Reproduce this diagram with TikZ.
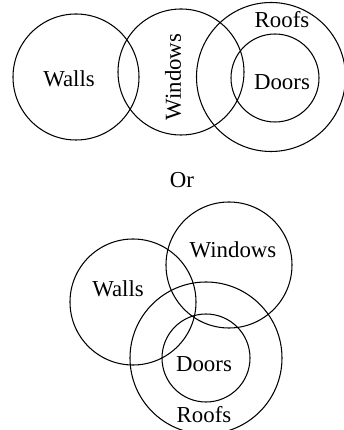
\documentclass[tikz,border=0pt]{standalone}
\usepackage{fontspec}
\setmainfont{Liberation Serif}
\usetikzlibrary{positioning}

\begin{document}
\begin{tikzpicture}[font=\fontsize{13}{15}\selectfont,
  ring/.style={draw,circle,line width=0.6pt,inner sep=0pt},
  big/.style={ring,minimum size=2.52cm},
  outer/.style={ring,minimum size=2.98cm},
  inner/.style={ring,minimum size=1.76cm}]
\useasboundingbox (0,0) rectangle (6.86,8.6);
% first layout
\node[big] (walls1) at (1.52,7.06) {};
\node[big] (windows1) at (3.62,7.16) {};
\node[outer] (roofs1) at (5.42,7.06) {};
\node[inner] (doors1) at (5.50,7.04) {};
\node at (1.38,7.02) {Walls};
\node[rotate=90] at (3.46,7.06) {Windows};
\node at (5.64,8.20) {Roofs};
\node at (5.64,6.96) {Doors};
\node (or) at (3.64,5.00) {Or};
% second layout
\node[big] (walls2) at (2.66,2.56) {};
\node[big] (windows2) at (4.58,3.30) {};
\node[ring,minimum size=3.04cm] (roofs2) at (4.12,1.44) {};
\node[inner] (doors2) at (4.12,1.44) {};
\node at (2.36,2.82) {Walls};
\node at (4.66,3.60) {Windows};
\node at (4.08,1.32) {Doors};
\node at (4.08,0.30) {Roofs};
\end{tikzpicture}
\end{document}
